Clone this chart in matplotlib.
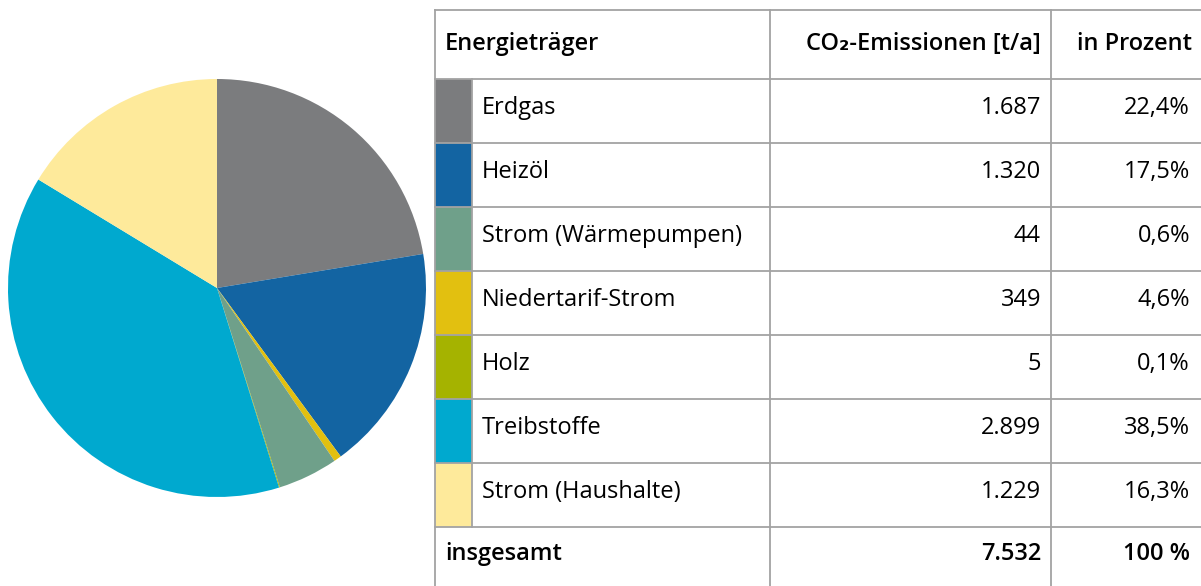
import matplotlib
matplotlib.use('Agg')
import matplotlib.pyplot as plt
from matplotlib.patches import Rectangle

plt.rcParams['font.family'] = ['Open Sans', 'DejaVu Sans']

# data
energietraeger = ['Erdgas', 'Heizöl', 'Strom (Wärmepumpen)', 'Niedertarif-Strom',
                  'Holz', 'Treibstoffe', 'Strom (Haushalte)']
emissionen = [1687, 1320, 44, 349, 5, 2899, 1229]
emissionen_txt = ['1.687', '1.320', '44', '349', '5', '2.899', '1.229']
prozent_txt = ['22,4%', '17,5%', '0,6%', '4,6%', '0,1%', '38,5%', '16,3%']
farben = ['#7b7c7e', '#1364a2', '#6fa08a', '#e2c010', '#a5b300', '#00a9cf', '#feea9b']
# in the pie the colours of rows 3 and 4 are swapped (as in the original)
pie_farben = ['#7b7c7e', '#1364a2', '#e2c010', '#6fa08a', '#a5b300', '#00a9cf', '#feea9b']
summe_txt = '7.532'
summe_prozent = '100 %'

W, H = 1201, 586
fig = plt.figure(figsize=(W / 100, H / 100), dpi=100)

# pie
ax_pie = fig.add_axes([8 / W, (H - 497) / H, 418 / W, 418 / H])
ax_pie.pie(emissionen, colors=pie_farben, startangle=90, counterclock=False,
           wedgeprops=dict(linewidth=0))
ax_pie.set_xlim(-1, 1)
ax_pie.set_ylim(-1, 1)
ax_pie.set_aspect('equal')
ax_pie.axis('off')

# table in pixel coordinates
ax = fig.add_axes([0, 0, 1, 1])
ax.set_xlim(0, W)
ax.set_ylim(H, 0)
ax.axis('off')

grid = '#a3a3a3'
lw = 1.3
x_left, x_sw, x_c1, x_c2, x_right = 435, 472, 770, 1051, 1201
y_top, y_head = 10, 79
row_h = 64
y_rows = [y_head + i * row_h for i in range(len(energietraeger) + 1)]
y_bottom = H

fs = 17
# swatches
for i, c in enumerate(farben):
    ax.add_patch(Rectangle((x_left, y_rows[i]), x_sw - x_left, row_h,
                           facecolor=c, edgecolor='none', zorder=1))

# horizontal lines
ax.plot([x_left, x_right], [y_top, y_top], color=grid, lw=lw, zorder=2)
ax.plot([x_left, x_right], [y_head, y_head], color=grid, lw=lw, zorder=2)
for y in y_rows[1:]:
    ax.plot([x_left, x_right], [y, y], color=grid, lw=lw, zorder=2)
# vertical lines
ax.plot([x_left, x_left], [y_top, y_bottom], color=grid, lw=lw, zorder=2)
ax.plot([x_sw, x_sw], [y_head, y_rows[-1]], color=grid, lw=lw, zorder=2)
for x in (x_c1, x_c2):
    ax.plot([x, x], [y_top, y_bottom], color=grid, lw=lw, zorder=2)

# header
yh = (y_top + y_head) / 2 - 1
ax.text(445, yh, 'Energieträger', fontsize=fs, fontweight='semibold', ha='left', va='center')
ax.text(1041, yh, 'CO₂-Emissionen [t/a]', fontsize=fs, fontweight='semibold', ha='right', va='center')
ax.text(1192, yh, 'in Prozent', fontsize=fs, fontweight='semibold', ha='right', va='center')

# rows
for i, name in enumerate(energietraeger):
    yc = y_rows[i] + row_h / 2 - 3
    ax.text(482, yc, name, fontsize=fs, ha='left', va='center')
    ax.text(1041, yc, emissionen_txt[i], fontsize=fs, ha='right', va='center')
    ax.text(1190, yc, prozent_txt[i], fontsize=fs, ha='right', va='center')

# total
yt = (y_rows[-1] + y_bottom) / 2 - 2
ax.text(445, yt, 'insgesamt', fontsize=fs, fontweight='semibold', ha='left', va='center')
ax.text(1041, yt, summe_txt, fontsize=fs, fontweight='semibold', ha='right', va='center')
ax.text(1190, yt, summe_prozent, fontsize=fs, fontweight='semibold', ha='right', va='center')

fig.savefig('out.png', dpi=100)
